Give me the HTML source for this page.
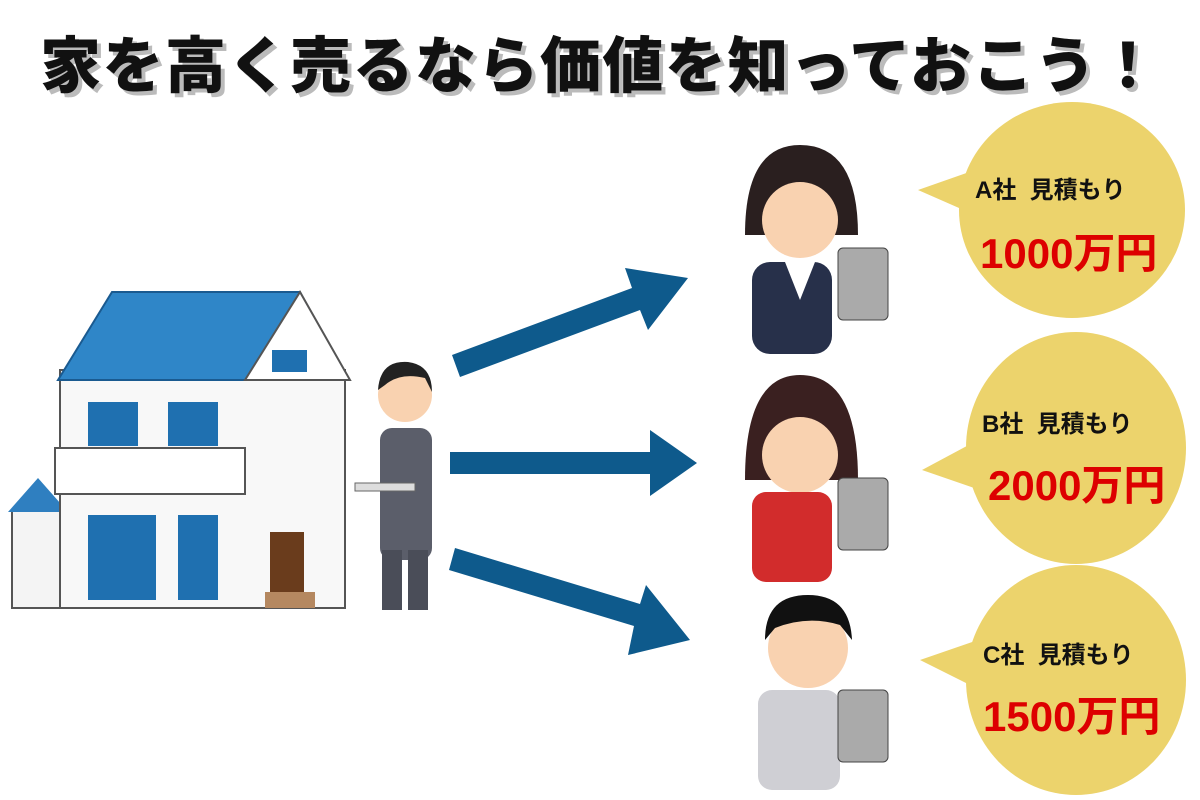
<!DOCTYPE html>
<html><head><meta charset="utf-8"><style>
body{margin:0;background:#fff;width:1200px;height:800px;overflow:hidden;position:relative;font-family:"Liberation Sans","Noto Sans CJK JP",sans-serif}
.t{position:absolute;left:0;top:16px;width:1200px;text-align:center;font-size:61px;font-weight:900;color:#111;text-shadow:4px 4px 0 #bbb;letter-spacing:1.5px;font-family:"Noto Sans CJK JP",sans-serif}
.b{position:absolute;font-weight:bold;font-family:"Liberation Sans","Noto Sans CJK JP",sans-serif;white-space:pre}
.l{font-size:24px;color:#111}
.p{font-size:42px;color:#d00}
</style></head><body>
<svg width="1200" height="800" style="position:absolute;left:0;top:0">
<g fill="#ecd36c">
<ellipse cx="1072" cy="210" rx="113" ry="108"/><polygon points="918,190 975,170 975,215"/>
<ellipse cx="1076" cy="448" rx="110" ry="116"/><polygon points="922,470 978,440 980,490"/>
<ellipse cx="1076" cy="680" rx="110" ry="115"/><polygon points="920,660 978,640 980,690"/>
</g>
<g fill="#0e5a8c">
<polygon points="452,355 632,288 625,268 688,278 648,330 640,310 460,377"/>
<polygon points="450,452 650,452 650,430 697,463 650,496 650,474 450,474"/>
<polygon points="455,548 640,604 646,585 690,640 628,655 634,626 449,570"/>
</g>
<rect x="12" y="510" width="58" height="98" fill="#f4f4f4" stroke="#555" stroke-width="2"/>
<polygon points="8,512 38,478 68,512" fill="#2f7fc0"/>
<rect x="60" y="370" width="285" height="238" fill="#f8f8f8" stroke="#555" stroke-width="2"/>
<polygon points="58,380 112,292 300,292 348,380" fill="#2f86c8" stroke="#1a5a90" stroke-width="2"/>
<polygon points="245,380 300,292 350,380" fill="#fff" stroke="#555" stroke-width="2"/>
<rect x="55" y="448" width="190" height="46" fill="#fff" stroke="#555" stroke-width="2"/>
<rect x="88" y="402" width="50" height="44" fill="#1f70b0"/><rect x="168" y="402" width="50" height="44" fill="#1f70b0"/>
<rect x="88" y="515" width="68" height="85" fill="#1f70b0"/><rect x="178" y="515" width="40" height="85" fill="#1f70b0"/>
<rect x="272" y="350" width="35" height="22" fill="#1f70b0"/>
<rect x="270" y="532" width="34" height="62" fill="#6a3c1c"/>
<rect x="265" y="592" width="50" height="16" fill="#b58860"/>
<circle cx="405" cy="395" r="27" fill="#f9d2b0"/><path d="M378,390 Q380,360 408,362 Q432,365 432,392 L425,378 Q400,372 385,385Z" fill="#222"/>
<rect x="380" y="428" width="52" height="132" rx="12" fill="#5b5e6a"/>
<rect x="382" y="550" width="20" height="60" fill="#4a4d58"/><rect x="408" y="550" width="20" height="60" fill="#4a4d58"/>
<rect x="355" y="483" width="60" height="8" fill="#ddd" stroke="#666"/>
<path d="M745,235 Q745,145 800,145 Q858,145 858,235Z" fill="#2a1f1f"/>
<circle cx="800" cy="220" r="38" fill="#f9d2b0"/>
<rect x="752" y="262" width="80" height="92" rx="18" fill="#27304a"/>
<polygon points="785,262 815,262 800,300" fill="#fff"/>
<rect x="838" y="248" width="50" height="72" rx="5" fill="#aaa" stroke="#444"/>
<path d="M745,480 Q745,375 800,375 Q858,375 858,480Z" fill="#3a2020"/>
<circle cx="800" cy="455" r="38" fill="#f9d2b0"/>
<rect x="752" y="492" width="80" height="90" rx="14" fill="#d22c2c"/>
<rect x="838" y="478" width="50" height="72" rx="5" fill="#aaa" stroke="#444"/>
<circle cx="808" cy="648" r="40" fill="#f9d2b0"/>
<path d="M765,640 Q765,595 808,595 Q850,595 852,640 L840,625 Q808,615 775,628Z" fill="#111"/>
<rect x="758" y="690" width="82" height="100" rx="14" fill="#cfcfd4"/>
<rect x="838" y="690" width="50" height="72" rx="5" fill="#aaa" stroke="#444"/>
</svg>
<div class="t">家を高く売るなら価値を知っておこう！</div>
<div class="b l" style="left:975px;top:170px">A社  見積もり</div>
<div class="b p" style="left:980px;top:220px">1000万円</div>
<div class="b l" style="left:982px;top:404px">B社  見積もり</div>
<div class="b p" style="left:988px;top:452px">2000万円</div>
<div class="b l" style="left:983px;top:635px">C社  見積もり</div>
<div class="b p" style="left:983px;top:683px">1500万円</div>
</body></html>
